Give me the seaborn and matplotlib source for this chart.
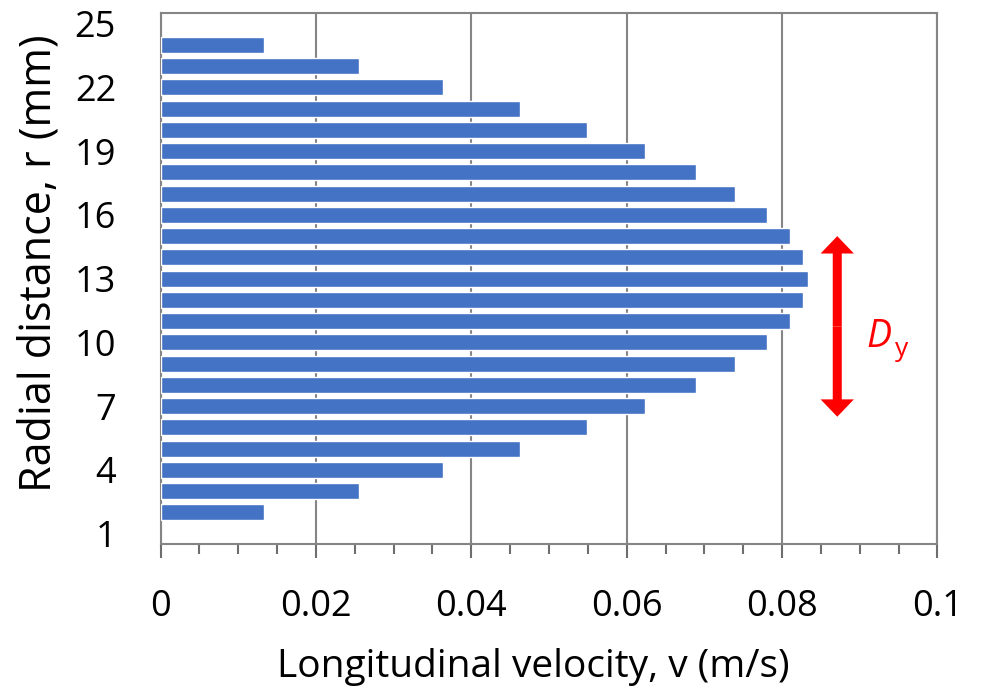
import matplotlib
matplotlib.use("Agg")
import matplotlib.pyplot as plt
import seaborn as sns
import numpy as np
from matplotlib.patches import FancyArrowPatch
from matplotlib.ticker import MultipleLocator

# ---- data ----
radius_mm = [2, 3, 4, 5, 6, 7, 8, 9, 10, 11, 12, 13,
             14, 15, 16, 17, 18, 19, 20, 21, 22, 23, 24]
velocity_ms = [0.0133, 0.0255, 0.0364, 0.0463, 0.0549, 0.0624, 0.0689, 0.0740,
               0.0781, 0.0810, 0.0827, 0.0833,
               0.0827, 0.0810, 0.0781, 0.0740, 0.0689, 0.0624, 0.0549, 0.0463,
               0.0364, 0.0255, 0.0133]
y_ticks = [1, 4, 7, 10, 13, 16, 19, 22, 25]
x_ticks = [0, 0.02, 0.04, 0.06, 0.08, 0.1]
x_tick_labels = ["0", "0.02", "0.04", "0.06", "0.08", "0.1"]
arrow_x = 0.0871
arrow_y = [6.5, 15.0]

sns.set_theme(style="white")
plt.rcParams['font.family'] = ['Open Sans', 'DejaVu Sans']
plt.rcParams['text.color'] = 'black'
plt.rcParams['axes.labelcolor'] = 'black'
plt.rcParams['xtick.color'] = 'black'
plt.rcParams['ytick.color'] = 'black'

fig = plt.figure(figsize=(9.91, 6.88), dpi=100)
ax = fig.add_axes([0.162, 0.209, 0.784, 0.772])

sns.barplot(x=velocity_ms, y=radius_mm, orient="h", native_scale=True,
            width=0.75, color="#4472C4", saturation=1, ax=ax, zorder=3)

ax.set_xlim(0, 0.1)
ax.set_ylim(0.5, 25.5)
ax.set_xticks(x_ticks)
ax.set_xticklabels(x_tick_labels)
ax.xaxis.set_minor_locator(MultipleLocator(0.005))
ax.set_yticks(y_ticks)
ax.set_yticklabels([str(t) for t in y_ticks])

ax.grid(axis="x", which="major", color="#858585", linewidth=1.5, zorder=1)
ax.grid(axis="y", visible=False)
ax.set_axisbelow(True)
for s in ax.spines.values():
    s.set_visible(True)
    s.set_color("#858585")
    s.set_linewidth(1.5)

ax.tick_params(axis="x", which="major", direction="out", length=10, width=1.5,
               color="#6e6e6e", labelcolor="black", labelsize=26, pad=22, bottom=True)
ax.tick_params(axis="x", which="minor", direction="out", length=7, width=1.5,
               color="#6e6e6e", bottom=True)
ax.tick_params(axis="y", which="both", length=0, labelsize=26, pad=32, left=False,
               labelcolor="black")

ax.set_xlabel("Longitudinal velocity, v (m/s)", fontsize=28, color="black")
ax.set_ylabel("Radial distance, r (mm)", fontsize=31, color="black")
ax.xaxis.set_label_coords(0.48, -0.195)
ax.yaxis.set_label_coords(-0.128, 0.53)

# double-headed red arrow
ymid = (arrow_y[0] + arrow_y[1]) / 2
for yend in arrow_y:
    arr = FancyArrowPatch((arrow_x, ymid), (arrow_x, yend),
                          arrowstyle="simple,head_length=1.25,head_width=2.4,tail_width=0.65",
                          mutation_scale=10, color="#FF0000", linewidth=0,
                          shrinkA=0, shrinkB=0, zorder=5)
    ax.add_patch(arr)

ax.text(0.0908, 9.8, "D", color="#FF0000", fontsize=27, style="italic",
        ha="left", va="baseline")
ax.text(0.0945, 9.35, "y", color="#FF0000", fontsize=19,
        ha="left", va="baseline")

fig.savefig("out.png", dpi=100)
